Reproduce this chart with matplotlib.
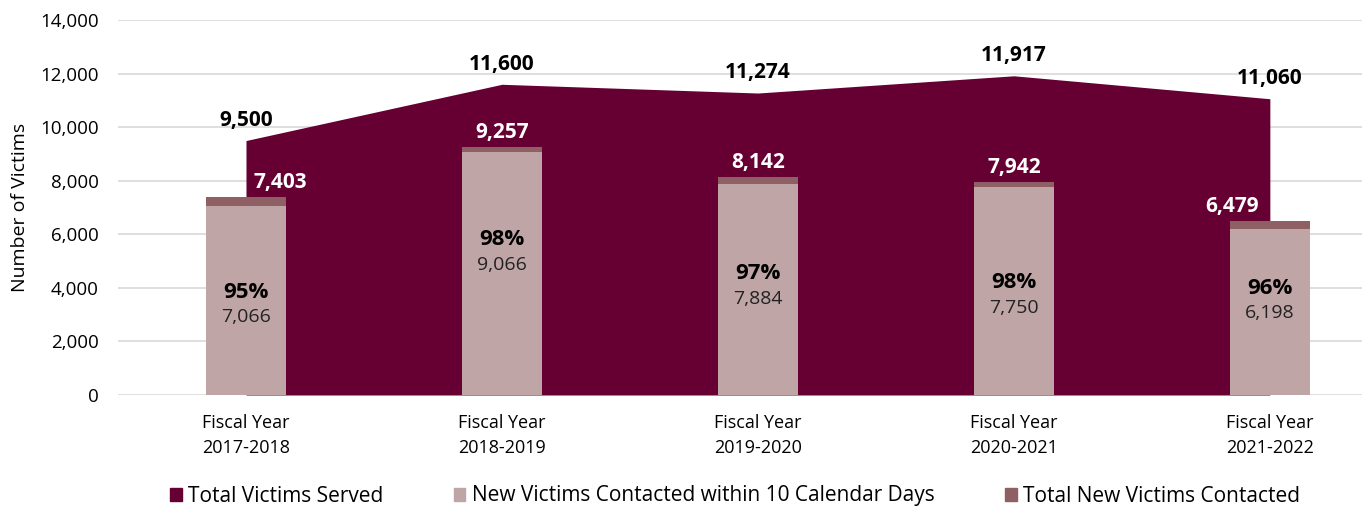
import matplotlib.pyplot as plt
from matplotlib.patches import Patch

plt.rcParams['font.family'] = ['Open Sans', 'DejaVu Sans']

years = ['Fiscal Year\n2017-2018', 'Fiscal Year\n2018-2019', 'Fiscal Year\n2019-2020',
         'Fiscal Year\n2020-2021', 'Fiscal Year\n2021-2022']
total_served = [9500, 11600, 11274, 11917, 11060]
new_contacted = [7403, 9257, 8142, 7942, 6479]
within_10_days = [7066, 9066, 7884, 7750, 6198]
pct_within = ['95%', '98%', '97%', '98%', '96%']

maroon = '#660033'
light = '#BFA5A6'
dusty = '#8E6063'

fig = plt.figure(figsize=(13.62, 5.08), dpi=100)
ax = fig.add_axes([118 / 1362, 113 / 508, 1 - 118 / 1362, 375 / 508])

x = list(range(len(years)))
ax.fill_between(x, total_served, color=maroon, linewidth=0, zorder=2)
ax.bar(x, new_contacted, width=0.31, color=dusty, zorder=3)
ax.bar(x, within_10_days, width=0.31, color=light, zorder=4)

ax.set_xlim(-0.5, 4.36)
ax.set_ylim(0, 14000)
ax.set_yticks(range(0, 14001, 2000))
ax.yaxis.set_major_formatter(plt.FuncFormatter(lambda v, p: f'{int(v):,}'))
ax.grid(axis='y', color='#D9D9D9', linewidth=1.2, zorder=0)
ax.set_axisbelow(True)
for s in ax.spines.values():
    s.set_visible(False)
ax.tick_params(length=0, labelsize=13.5, colors='#000000', pad=14)
ax.tick_params(axis='x', labelsize=13, pad=14)
ax.set_xticks(x)
ax.set_xticklabels(years, linespacing=1.5)
ax.set_ylabel('Number of Victims', fontsize=14, labelpad=8)

# totals above the area
for i, v in enumerate(total_served):
    ax.annotate(f'{v:,}', (i, v), xytext=(0, 7), textcoords='offset points',
                ha='center', va='bottom', fontsize=15, fontweight='bold', zorder=6)

# total new contacted above each bar; the end bars shift sideways onto the area
shift = [25, 0, 0, 0, -27]
for i, v in enumerate(new_contacted):
    ax.annotate(f'{v:,}', (i, v), xytext=(shift[i], 3), textcoords='offset points',
                ha='center', va='bottom', fontsize=15, fontweight='bold',
                color='white', zorder=6)

# share and count contacted within 10 days, inside the light bars
label_y = [3400, 5350, 4080, 3750, 3540]
for i, (p, v) in enumerate(zip(pct_within, within_10_days)):
    ax.annotate(p, (i, label_y[i]), xytext=(0, 1), textcoords='offset points',
                ha='center', va='bottom', fontsize=16, fontweight='bold', zorder=6)
    ax.annotate(f'{v:,}', (i, label_y[i]), xytext=(0, -3), textcoords='offset points',
                ha='center', va='top', fontsize=14, color='#222222', zorder=6)

handles = [Patch(color=maroon), Patch(color=light), Patch(color=dusty)]
labels = ['Total Victims Served', 'New Victims Contacted within 10 Calendar Days',
          'Total New Victims Contacted']
fig.legend(handles, labels, loc='center', bbox_to_anchor=(735 / 1362, 1 - 496 / 508),
           ncol=3, frameon=False, fontsize=15, handlelength=0.55, handleheight=0.6,
           handletextpad=0.3, columnspacing=3.4)

fig.savefig('out.png', dpi=100)
